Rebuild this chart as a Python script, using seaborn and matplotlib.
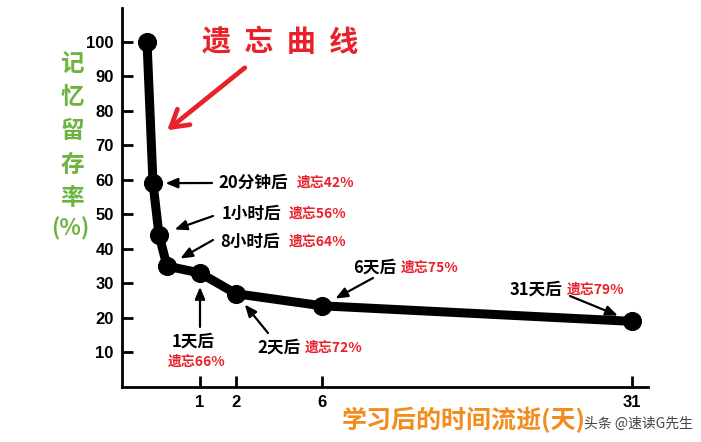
"""
Ebbinghaus forgetting curve (遗忘曲线) redrawn with seaborn.
"""
import matplotlib

matplotlib.use("Agg")
import matplotlib.pyplot as plt
import numpy as np
import pandas as pd
import seaborn as sns

# time after learning, in days
days = [0, 20 / 1440, 1 / 24, 8 / 24, 1, 2, 6, 31]
retention = [100, 59, 44, 35, 33, 27, 23.5, 19]
point_labels = ["", "20分钟后", "1小时后", "8小时后", "1天后", "2天后", "6天后", "31天后"]
forget_labels = ["", "遗忘42%", "遗忘56%", "遗忘64%", "遗忘66%", "遗忘72%", "遗忘75%", "遗忘79%"]
x_ticks = [1, 2, 6, 31]
y_ticks = [10, 20, 30, 40, 50, 60, 70, 80, 90, 100]

# the hand-drawn time axis is not uniform: map days to axis length
scale_days = [-0.07, 0, 20 / 1440, 1 / 24, 8 / 24, 1, 2, 6, 31, 32]
scale_pos = [0, 25, 31, 37, 45, 78, 114, 200, 510, 526]

W, H = 701, 442
CJK = ["Noto Sans CJK SC", "DejaVu Sans"]
GREEN = "#6db33f"
ORANGE = "#f28c1e"
RED = "#e8212b"

sns.set_theme(style="white")
plt.rcParams["font.family"] = CJK

df = pd.DataFrame({"day": days, "retention": retention})

fig = plt.figure(figsize=(W / 100, H / 100), dpi=100)
ax = fig.add_axes([122 / W, 1 - 387 / H, (648 - 122) / W, (387 - 8) / H])

ax.set_xscale(
    "function",
    functions=(
        lambda d: np.interp(d, scale_days, scale_pos),
        lambda p: np.interp(p, scale_pos, scale_days),
    ),
)

sns.lineplot(
    data=df, x="day", y="retention", color="black", linewidth=6.5,
    marker="o", markersize=13, markeredgecolor="black", ax=ax,
)

ax.set_xlim(-0.07, 32)
ax.set_ylim(0, 109.7)
ax.set_xticks(x_ticks)
ax.set_xticklabels([str(t) for t in x_ticks])
ax.set_yticks(y_ticks)
ax.set_xlabel("")
ax.set_ylabel("")
for s in ["top", "right"]:
    ax.spines[s].set_visible(False)
for s in ["left", "bottom"]:
    ax.spines[s].set_color("black")
    ax.spines[s].set_linewidth(2)
ax.tick_params(axis="both", which="major", bottom=True, left=True,
               direction="in", length=8, width=2, color="black",
               labelsize=12, labelcolor="black", pad=6)
for lab in ax.get_xticklabels() + ax.get_yticklabels():
    lab.set_fontfamily("Liberation Sans")
    lab.set_fontweight("bold")


def fx(x, y):
    return x / W, 1 - y / H


# title and red arrow
fig.text(*fx(202, 42), "遗  忘  曲  线", color=RED, fontsize=21, fontweight="bold",
         ha="left", va="center")
ax.annotate("", xy=(165, H - 132), xycoords="figure pixels",
            xytext=(247, H - 66), textcoords="figure pixels",
            arrowprops=dict(arrowstyle="->,head_length=1.0,head_width=0.6",
                            color=RED, lw=3.4))

# y axis title, characters stacked
for i, ch in enumerate(["记", "忆", "留", "存", "率"]):
    fig.text(*fx(72, 64 + i * 33.5), ch, color=GREEN, fontsize=17, fontweight="bold",
             ha="center", va="center")
fig.text(*fx(70, 229), "(%)", color=GREEN, fontsize=16, fontweight="bold",
         ha="center", va="center")

# x axis title
fig.text(*fx(342, 420), "学习后的时间流逝(天)", color=ORANGE, fontsize=18,
         fontweight="bold", ha="left", va="center")

# point annotations: black label, red label, arrow start (pixels), shrink
label_pos = {
    1: ((218, 183), (297, 183), (212, 183), 9),
    2: ((222, 214), (289, 214), (213, 216), 12),
    3: ((220, 242), (289, 242), (213, 240), 11),
    4: ((172, 342), (168, 362), (200, 327), 10),
    5: ((257, 348), (305, 348), (268, 333), 10),
    6: ((353, 268), (401, 268), (373, 278), 11),
    7: ((510, 290), (567, 290), (570, 296), 11),
}
for i, (blk, red, start, shrink) in label_pos.items():
    fig.text(*fx(*blk), point_labels[i], color="black", fontsize=12,
             fontweight="bold", ha="left", va="center")
    fig.text(*fx(*red), forget_labels[i], color=RED, fontsize=10,
             fontweight="bold", ha="left", va="center")
    ax.annotate("", xy=(days[i], retention[i]), xycoords="data",
                xytext=(start[0], H - start[1]), textcoords="figure pixels",
                arrowprops=dict(arrowstyle="-|>,head_length=0.6,head_width=0.25",
                                color="black", lw=1.6, shrinkA=0, shrinkB=shrink))

# watermark
fig.text(*fx(584, 424), "头条 @速读G先生", color="#222222", fontsize=10,
         ha="left", va="center", alpha=0.85)

fig.savefig("out.png", dpi=100, facecolor="white")
